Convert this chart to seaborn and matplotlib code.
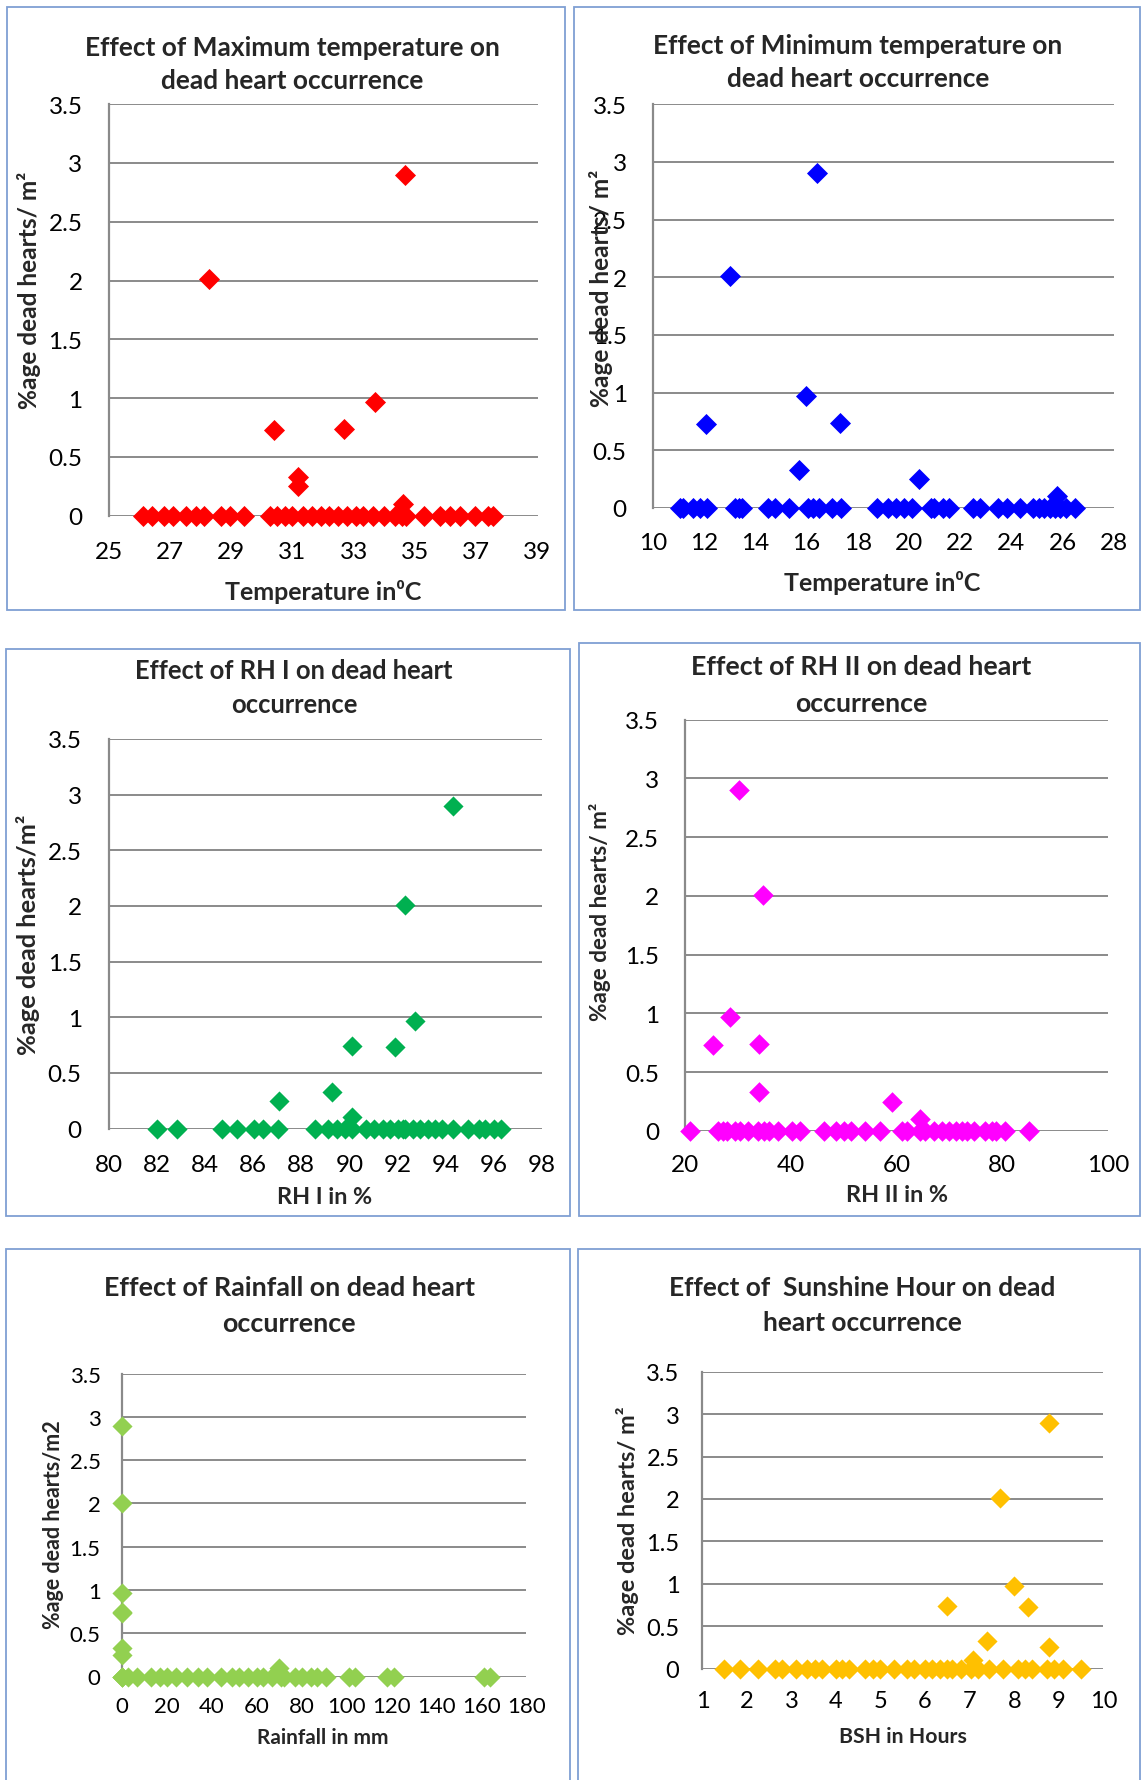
import numpy as np
import pandas as pd
import matplotlib
matplotlib.use("Agg")
import matplotlib.pyplot as plt
from matplotlib.patches import Rectangle
import seaborn as sns

# ---------------- data ----------------
dead_heart_nonzero = [2.9, 2.01, 0.97, 0.74, 0.73, 0.33, 0.25, 0.1]

maxT_nonzero_x = [34.69, 28.29, 33.71, 32.70, 30.40, 31.2, 31.2, 34.61]
maxT_zero_x = [26.11, 26.41, 26.8, 27.12, 27.54, 27.84, 28.11, 28.67, 28.97, 29.42,
               30.28, 30.5, 30.76, 31.0, 31.36, 31.65, 31.95, 32.19, 32.49, 32.79,
               33.08, 33.32, 33.62, 33.98, 34.34, 34.58, 34.7, 35.29, 35.83, 36.13,
               36.48, 36.96, 37.38, 37.56]

minT_nonzero_x = [16.41, 13.01, 15.99, 17.3, 12.09, 15.7, 20.39, 25.77]
minT_zero_x = [11.06, 11.2, 11.56, 11.84, 12.13, 13.2, 13.35, 13.49, 14.49, 14.77,
               15.31, 16.06, 16.25, 16.49, 16.99, 17.34, 18.77, 19.2, 19.49, 19.8,
               20.13, 20.84, 20.99, 21.34, 21.56, 22.49, 22.77, 23.49, 23.84, 24.34,
               24.84, 25.06, 25.27, 25.49, 25.7, 25.91, 26.13, 26.49]

rh1_nonzero_x = [94.31, 92.31, 92.7, 90.1, 91.89, 89.29, 87.09, 90.1]
rh1_zero_x = [81.99, 82.85, 84.69, 85.32, 86.05, 86.39, 87.05, 88.57, 89.1, 89.5,
              89.8, 90.1, 90.7, 91.0, 91.4, 91.7, 92.0, 92.2, 92.3, 92.63,
              92.93, 93.24, 93.55, 93.85, 94.31, 94.92, 95.38, 95.61, 96.0, 96.3]

rh2_nonzero_x = [30.16, 34.7, 28.38, 33.94, 25.29, 33.94, 59.08, 64.37]
rh2_zero_x = [20.96, 26.25, 27.14, 27.97, 29.34, 30.37, 31.95, 33.8, 34.84, 35.87,
              37.58, 40.19, 41.7, 46.17, 48.57, 49.95, 51.32, 54.07, 56.81, 60.93,
              61.96, 64.37, 65.4, 67.1, 68.5, 69.9, 71.2, 72.3, 73.3, 74.7,
              76.7, 78.1, 78.8, 80.5, 84.97]

rain_nonzero_x = [0, 0, 0, 0, 0, 0, 0, 70.0]
rain_zero_x = [0, 0, 0, 3, 7, 13, 17, 20, 24, 29, 34, 38, 44, 49, 52, 56, 60, 63, 67,
               71, 72, 77, 80, 84, 87, 91, 101, 104, 118, 121, 161, 164]

bsh_nonzero_x = [8.79, 7.69, 8.0, 6.5, 8.3, 7.39, 8.79, 7.08]
bsh_zero_x = [1.48, 1.85, 2.25, 2.62, 2.78, 3.11, 3.35, 3.52, 3.68, 4.0,
              4.13, 4.29, 4.66, 4.82, 4.98, 5.31, 5.59, 5.76, 6.0, 6.16,
              6.33, 6.49, 6.61, 6.81, 7.02, 7.18, 7.43, 7.75, 8.08, 8.24,
              8.4, 8.73, 8.89, 9.09, 9.5]

titles = ["Effect of Maximum temperature on\ndead heart occurrence",
          "Effect of Minimum temperature on\ndead heart occurrence",
          "Effect of RH I on dead heart\noccurrence",
          "Effect of RH II on dead heart\noccurrence",
          "Effect of Rainfall on dead heart\noccurrence",
          "Effect of  Sunshine Hour on dead\nheart occurrence"]
xlabels = ["Temperature in\u2070C", "Temperature in\u2070C", "RH I in %",
           "RH II in %", "Rainfall in mm", "BSH in Hours"]
ylabels = ["%age dead hearts/ m\u00b2", "%age dead hearts/ m\u00b2", "%age dead hearts/m\u00b2",
           "%age dead hearts/ m\u00b2", "%age dead hearts/m2", "%age dead hearts/ m\u00b2"]
xticks_list = [list(range(25, 40, 2)), list(range(10, 29, 2)), list(range(80, 99, 2)),
               list(range(20, 101, 20)), list(range(0, 181, 20)), list(range(1, 11))]
yticks = [0, 0.5, 1, 1.5, 2, 2.5, 3, 3.5]
colors = ["#FF0000", "#0000FF", "#00B050", "#FF00FF", "#92D050", "#FFC000"]

xs = [maxT_nonzero_x + maxT_zero_x, minT_nonzero_x + minT_zero_x,
      rh1_nonzero_x + rh1_zero_x, rh2_nonzero_x + rh2_zero_x,
      rain_nonzero_x + rain_zero_x, bsh_nonzero_x + bsh_zero_x]
zero_lens = [len(maxT_zero_x), len(minT_zero_x), len(rh1_zero_x),
             len(rh2_zero_x), len(rain_zero_x), len(bsh_zero_x)]

# ---------------- layout (pixels) ----------------
W, H = 1141, 1781
areas = [(108.5, 537.5, 105.2, 516.8), (652.7, 1114, 105.2, 508.9),
         (108.7, 542.2, 739.9, 1129.5), (685.3, 1108, 720.7, 1132),
         (121.6, 526.4, 1374.6, 1677.5), (702.4, 1103.3, 1372.8, 1669.6)]
frames = [(6.6, 565, 8, 611), (574.4, 1139.5, 8, 611),
          (6, 570, 650, 1217), (578.6, 1139.5, 644, 1217),
          (6, 570, 1250, 1800), (578, 1139.5, 1250, 1800)]
title_pos = [(292, 48.2, 81), (858, 45.5, 79), (294, 671.4, 705.5),
             (861, 666.6, 703.6), (289, 1288.3, 1323.9), (862, 1288.3, 1322.8)]
ylab_pos = [(29, 290), (601, 288), (27.6, 935), (600, 912), (53.4, 1525), (627.6, 1521)]
xlab_pos = [(323, 592), (882, 583), (325, 1197), (897, 1196), (323, 1738), (903, 1737)]
ypad_px = [26, 26, 27, 26, 21, 23]
xpad_px = [25, 24, 25, 23, 20, 21]
tick_fs = [17.5, 17.5, 17.5, 17.5, 16, 17]
ylab_fs = [17.6, 17.6, 18.3, 16.2, 15.5, 16.9]
xlab_fs = [18, 18, 16.8, 16.8, 15, 15.3]
title_fs = [18.9, 18.9, 18.4, 19.3, 19.4, 18.9]
msize = [115, 115, 105, 110, 105, 105]

sns.set_style("white")
plt.rcParams["font.family"] = ["Lato", "DejaVu Sans"]

fig = plt.figure(figsize=(W / 100, H / 100), dpi=100)
fig.patch.set_facecolor("white")

for i in range(6):
    l, r, t, b = areas[i]
    ax = fig.add_axes([l / W, 1 - b / H, (r - l) / W, (b - t) / H])
    yvals = dead_heart_nonzero + [0.0] * zero_lens[i]
    df = pd.DataFrame({"x": xs[i], "y": yvals})
    sns.scatterplot(data=df, x="x", y="y", ax=ax, marker="D", s=msize[i],
                    color=colors[i], linewidth=0, clip_on=False, zorder=5)
    xt = xticks_list[i]
    ax.set_xlim(xt[0], xt[-1])
    ax.set_ylim(0, 3.5)
    ax.set_xticks(xt)
    ax.set_xticklabels([str(v) for v in xt])
    ax.set_yticks(yticks)
    ax.set_yticklabels([f"{v:g}" for v in yticks])
    ax.set_xlabel("")
    ax.set_ylabel("")
    ax.grid(False)
    ax.yaxis.grid(True, color="#8a8a8a", linewidth=1.4)
    ax.set_axisbelow(True)
    for s in ["top", "right", "bottom"]:
        ax.spines[s].set_visible(False)
    ax.spines["left"].set_color("#8a8a8a")
    ax.spines["left"].set_linewidth(1.6)
    ax.tick_params(axis="both", length=0, labelsize=tick_fs[i], colors="black")
    ax.tick_params(axis="y", pad=ypad_px[i] * 0.72)
    ax.tick_params(axis="x", pad=xpad_px[i] * 0.72)

    tx, ty1, ty2 = title_pos[i]
    l1, l2 = titles[i].split("\n")
    fig.text(tx / W, 1 - ty1 / H, l1, ha="center", va="center",
             fontsize=title_fs[i], fontweight="bold")
    fig.text(tx / W, 1 - ty2 / H, l2, ha="center", va="center",
             fontsize=title_fs[i], fontweight="bold")
    yx, yy = ylab_pos[i]
    fig.text(yx / W, 1 - yy / H, ylabels[i], rotation=90, ha="center", va="center",
             fontsize=ylab_fs[i], fontweight="bold")
    xx, xy = xlab_pos[i]
    fig.text(xx / W, 1 - xy / H, xlabels[i], ha="center", va="center",
             fontsize=xlab_fs[i], fontweight="bold")

    fl, fr, ft, fb = frames[i]
    fig.patches.append(Rectangle((fl / W, 1 - fb / H), (fr - fl) / W, (fb - ft) / H,
                                 transform=fig.transFigure, fill=False,
                                 edgecolor="#7f9fd3", linewidth=1.3, zorder=0))

fig.savefig("out.png", dpi=100, facecolor="white")
